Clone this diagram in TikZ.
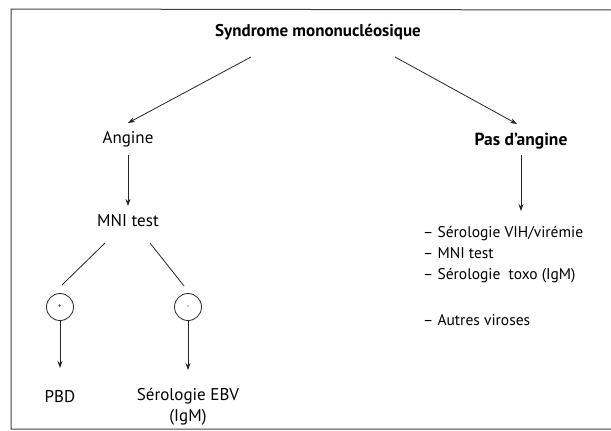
\documentclass[tikz,border=0pt]{standalone}
\usepackage{fontspec}
\setmainfont{PT Sans}
\usetikzlibrary{arrows.meta}
\begin{document}
\begin{tikzpicture}[x=1pt,y=-1pt,
  txt/.style={inner sep=0pt,font=\fontsize{17}{22}\selectfont},
  listtxt/.style={inner sep=0pt,font=\fontsize{15.5}{21}\selectfont},
  btxt/.style={inner sep=0pt,font=\fontsize{17.5}{22}\selectfont\bfseries},
  arr/.style={draw=black!85,line width=0.8pt,-{Stealth[length=7pt,width=5pt]}},
  ln/.style={draw=black!85,line width=0.8pt},
  sign/.style={circle,draw=black!85,line width=0.8pt,minimum size=27pt,inner sep=0pt,font=\fontsize{7}{7}\selectfont}]
\useasboundingbox (0,0) rectangle (611,431);
% page frame
\draw[black!75,line width=1pt] (611,10) -- (11,9) -- (11,429) -- (611,429);

\node[btxt,font=\fontsize{17}{20}\selectfont\bfseries] (top) at (318,32) {Syndrome mononucléosique};
\node[txt,anchor=base] (ang) at (128,143) {Angine};
\node[btxt] (pas) at (521,141) {Pas d'angine};
\node[txt,anchor=base] (mni) at (128,226) {MNI test};
\node[sign] (pos) at (60,307) {+};
\node[sign] (neg) at (188,307) {-};
\node[txt,anchor=base] (pbd) at (60,402) {PBD};
\node[txt,anchor=base] (ebv) at (188,400) {Sérologie EBV};
\node[txt,anchor=base] (igm) at (188,421) {(IgM)};
\node[listtxt,anchor=west,align=left] (list) at (423,255)
  {– Sérologie VIH/virémie\\– MNI test\\– Sérologie\ \ toxo (IgM)};
\node[listtxt,anchor=west] (autres) at (423,320) {– Autres viroses};

\coordinate (t1) at (251,57);
\coordinate (t2) at (395,57);
\coordinate (m1) at (105,243);
\coordinate (m2) at (150,243);
\coordinate (c1) at (62,285);
\coordinate (c2) at (184,286);

\draw[arr] (t1) -- (128,123);
\draw[arr] (t2) -- (517,124);
\draw[arr] (128,155) -- (128,206);
\draw[arr] (521,155) -- (521,211);
\draw[ln] (m1) -- (c1);
\draw[ln] (m2) -- (c2);
\draw[arr] (pos.south) -- (60,368);
\draw[arr] (neg.south) -- (188,370);
\end{tikzpicture}
\end{document}
